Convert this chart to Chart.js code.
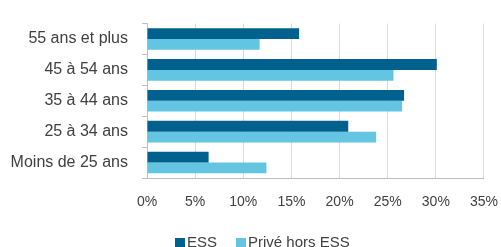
<!DOCTYPE html>
<html><head><meta charset="utf-8">
<script src="https://cdn.jsdelivr.net/npm/chart.js@4/dist/chart.umd.min.js"></script>
<style>html,body{margin:0;padding:0;background:#fff}#w{width:501px;height:247px}</style>
</head><body><div id="w"><canvas id="c"></canvas></div>
<script>
const categories = ["55 ans et plus","45 à 54 ans","35 à 44 ans","25 à 34 ans","Moins de 25 ans"];
const essValues = [15.8, 30.1, 26.7, 20.9, 6.4];
const priveValues = [11.7, 25.6, 26.5, 23.8, 12.4];
const seriesNames = ["ESS","Privé hors ESS"];
const xTicks = [0,5,10,15,20,25,30,35];

const FONT = "'Liberation Sans', Arial, sans-serif";

const bottomLegend = {
  id: 'bottomLegend',
  afterDraw(chart) {
    const ctx = chart.ctx;
    ctx.save();
    ctx.font = '15px ' + FONT;
    ctx.textBaseline = 'alphabetic';
    ctx.textAlign = 'left';
    let x = 175;
    const boxTop = 238, baseline = 247;
    chart.data.datasets.forEach(ds => {
      ctx.fillStyle = ds.backgroundColor;
      ctx.fillRect(x, boxTop, 10, 10);
      x += 12;
      ctx.fillStyle = '#404040';
      ctx.fillText(ds.label, x, baseline);
      x += ctx.measureText(ds.label).width + 19;
    });
    ctx.restore();
  }
};

new Chart(document.getElementById('c'), {
  type: 'bar',
  data: {
    labels: categories,
    datasets: [
      {label: seriesNames[0], data: essValues, backgroundColor: '#00608e', categoryPercentage: 0.7, barPercentage: 1.0},
      {label: seriesNames[1], data: priveValues, backgroundColor: '#63c5e2', categoryPercentage: 0.7, barPercentage: 1.0}
    ]
  },
  plugins: [bottomLegend],
  options: {
    indexAxis: 'y',
    responsive: true, maintainAspectRatio: false, animation: false,
    layout: {padding: {top: 14, right: 17, left: 0, bottom: 30}},
    plugins: {
      legend: {display: false},
      tooltip: {enabled: false}
    },
    scales: {
      x: {
        min: 0, max: 35,
        afterBuildTicks: (s) => { s.ticks = xTicks.map(v => ({value: v})); },
        ticks: {callback: v => v + '%', font: {family: FONT, size: 14}, color: '#404040', padding: 3},
        grid: {color: '#d9d9d9', drawTicks: true, tickLength: 13, tickColor: 'rgba(0,0,0,0)'},
        border: {color: '#bfbfbf'},
        afterFit: (s) => { s.height = 39; }
      },
      y: {
        ticks: {font: {family: FONT, size: 16}, color: '#404040', padding: 14},
        grid: {drawOnChartArea: false, color: '#bfbfbf', tickLength: 5},
        border: {color: '#bfbfbf'},
        afterFit: (s) => { s.width = 147; }
      }
    }
  }
});
</script></body></html>
